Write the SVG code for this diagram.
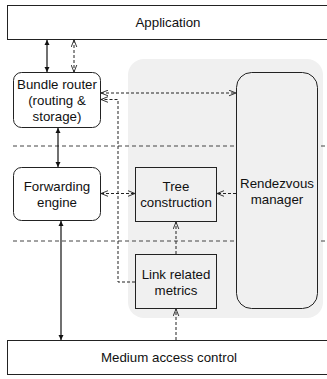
<svg xmlns="http://www.w3.org/2000/svg" width="327" height="379" viewBox="0 0 327 379">
<style>
text{font-family:"Liberation Sans",Arial,sans-serif;font-size:13.3px;fill:#111;text-anchor:middle}
.box{fill:#fff;stroke:#222;stroke-width:1}
.gbox{fill:#f0f0f0;stroke:#222;stroke-width:1}
.sep{stroke:#444;stroke-width:1;stroke-dasharray:4 3;fill:none}
.solid{stroke:#111;stroke-width:1.2;fill:none;marker-start:url(#fa);marker-end:url(#fa)}
.dash{stroke:#222;stroke-width:1;stroke-dasharray:3 2;fill:none}
</style>
<defs>
<marker id="fa" viewBox="0 0 10 10" refX="10" refY="5" markerWidth="5" markerHeight="8" orient="auto-start-reverse" markerUnits="userSpaceOnUse">
<path d="M0,0 L10,5 L0,10 z" fill="#111"/>
</marker>
<marker id="oa" viewBox="0 0 10 10" refX="10" refY="5" markerWidth="7" markerHeight="7" orient="auto-start-reverse" markerUnits="userSpaceOnUse">
<path d="M0,1 L10,5 L0,9" fill="none" stroke="#222" stroke-width="1.3"/>
</marker>
</defs>
<rect x="128" y="59" width="195" height="259" rx="16" fill="#f0f0f0"/>
<g id="separators">
<line class="sep" x1="13" y1="146" x2="327" y2="146"/>
<line class="sep" x1="13" y1="241" x2="327" y2="241"/>
</g>
<g id="application"><rect class="box" x="7.5" y="5.5" width="330" height="34"/><text x="168" y="27">Application</text></g>
<g id="mac"><rect class="box" x="7.5" y="340.5" width="330" height="34"/><text x="169" y="362">Medium access control</text></g>
<g id="bundle-router"><rect class="box" x="13.5" y="72.5" width="87" height="55" rx="8"/>
<text x="57" y="89">Bundle router</text><text x="57" y="105">(routing &amp;</text><text x="57" y="121">storage)</text></g>
<g id="forwarding-engine"><rect class="box" x="13.5" y="167.5" width="87" height="53" rx="8"/>
<text x="57" y="191">Forwarding</text><text x="57" y="207">engine</text></g>
<g id="rendezvous-manager"><rect class="gbox" x="236.5" y="72.5" width="81" height="236" rx="15"/>
<text x="277" y="188">Rendezvous</text><text x="277" y="204">manager</text></g>
<g id="tree-construction"><rect class="gbox" x="135.5" y="167.5" width="81" height="54"/>
<text x="176" y="191">Tree</text><text x="176" y="207">construction</text></g>
<g id="link-metrics"><rect class="gbox" x="135.5" y="254.5" width="81" height="54"/>
<text x="176" y="279">Link related</text><text x="176" y="295">metrics</text></g>
<g id="connectors">
<line class="solid" x1="47" y1="40" x2="47" y2="72"/>
<line class="dash" x1="74" y1="40" x2="74" y2="72" marker-start="url(#oa)" marker-end="url(#oa)"/>
<line class="solid" x1="58" y1="128" x2="58" y2="167"/>
<line class="solid" x1="61" y1="221" x2="61" y2="340"/>
<line class="dash" x1="101" y1="93" x2="236" y2="93" marker-start="url(#oa)" marker-end="url(#oa)"/>
<polyline class="dash" points="135,282 118,282 118,99.5 101,99.5" marker-end="url(#oa)"/>
<line class="dash" x1="101" y1="193.5" x2="135" y2="193.5" marker-start="url(#oa)" marker-end="url(#oa)"/>
<line class="dash" x1="236" y1="193.5" x2="217" y2="193.5" marker-end="url(#oa)"/>
<line class="dash" x1="176" y1="254" x2="176" y2="222" marker-end="url(#oa)"/>
<line class="dash" x1="176" y1="340" x2="176" y2="309" marker-end="url(#oa)"/>
</g>
</svg>
